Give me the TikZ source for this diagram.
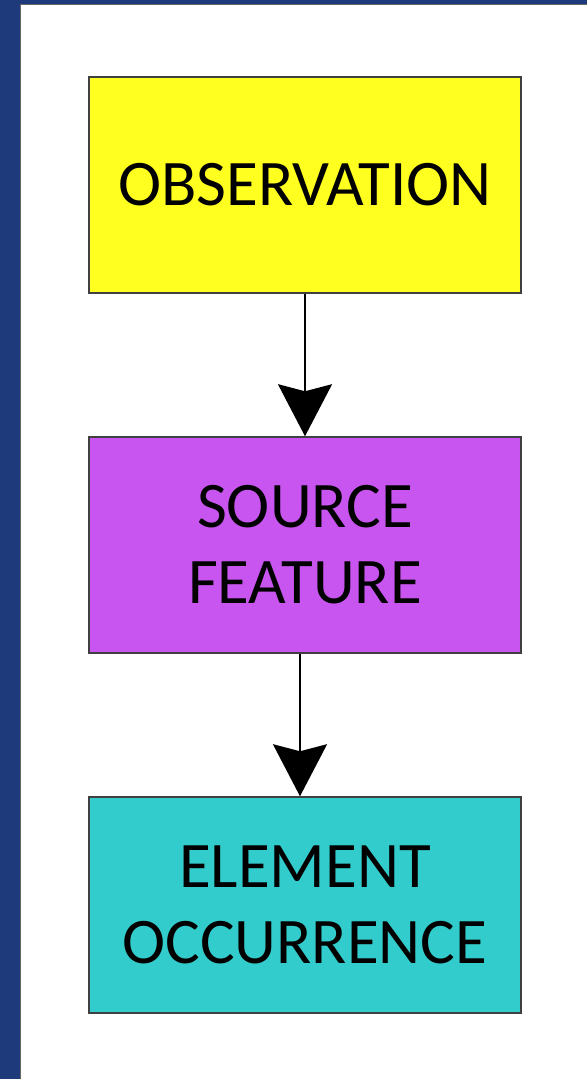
\documentclass[tikz,border=0pt]{standalone}
\usepackage{fontspec}
\setmainfont{Carlito}
\usetikzlibrary{arrows.meta}

\definecolor{frameblue}{RGB}{31,58,122}
\definecolor{obsyellow}{RGB}{255,255,32}
\definecolor{srcpurple}{RGB}{200,85,240}
\definecolor{elemcyan}{RGB}{51,204,204}

\tikzset{
  stagebox/.style={draw=black!75,line width=1.5pt,minimum width=432pt,minimum height=216pt,
    align=center,font=\fontsize{65}{76}\selectfont,inner sep=0pt},
  flow/.style={line width=2pt,-{Stealth[length=52pt,width=54pt,inset=7pt]}}
}

\begin{document}
\begin{tikzpicture}[x=1pt,y=-1pt]
          \useasboundingbox (0,0) rectangle (587,1079);
          \fill[frameblue] (0,0) rectangle (587,1079);
          \fill[white] (20,4) rectangle (587,1079);
          \draw[black!60,line width=1pt] (20.5,1079)--(20.5,4.5)--(587,4.5);
          
          \node[stagebox,fill=obsyellow] (obs) at (305,185) {OBSERVATION};
          \node[stagebox,fill=srcpurple] (src) at (305,545) {SOURCE\\FEATURE};
          \node[stagebox,fill=elemcyan] (elem) at (305,905) {ELEMENT\\OCCURRENCE};
          
          \draw[flow] (obs.south) -- (src.north);
          \draw[flow] ([xshift=-5pt]src.south) -- ([xshift=-5pt]elem.north);
        \end{tikzpicture}
\end{document}
